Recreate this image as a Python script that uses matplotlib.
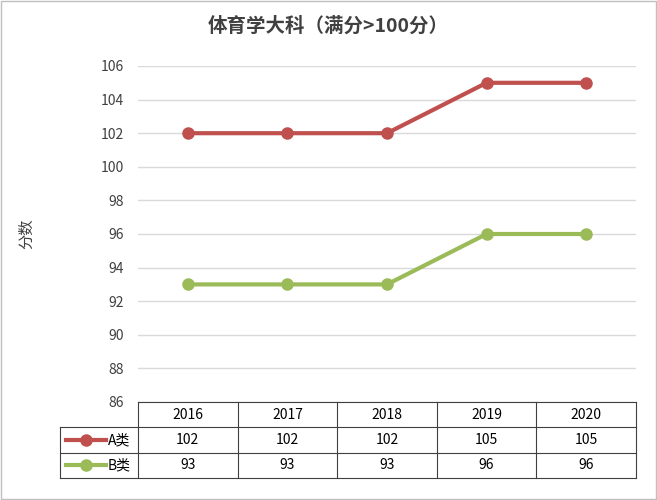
import matplotlib.pyplot as plt
from matplotlib.patches import Rectangle
plt.rcParams['font.family'] = ['Noto Sans CJK SC', 'DejaVu Sans']

years = ['2016', '2017', '2018', '2019', '2020']
a_vals = [102, 102, 102, 105, 105]
b_vals = [93, 93, 93, 96, 96]
series = [('A类', a_vals, '#C0504D'), ('B类', b_vals, '#9BBB59')]

fig = plt.figure(figsize=(6.57, 5), dpi=100)
fig.patches.append(Rectangle((0.002, 0.002), 0.996, 0.996, transform=fig.transFigure,
                             fill=False, edgecolor='#BFBFBF', lw=1))
ax = fig.add_axes([138/657, 98/500, 498/657, 336/500])
x = list(range(len(years)))
for name, v, c in series:
    ax.plot(x, v, color=c, lw=3, marker='o', ms=8)
ax.set_xlim(-0.5, 4.5)
ax.set_ylim(86, 106)
ax.set_yticks(range(86, 107, 2))
ax.tick_params(axis='y', length=0, labelsize=10, colors='#404040', pad=10)
ax.set_xticks([])
ax.grid(axis='y', color='#D9D9D9', lw=1)
for s in ax.spines.values():
    s.set_visible(False)
ax.set_ylabel('分数', fontsize=11, color='#404040')
ax.yaxis.set_label_coords(-0.207, 0.5)
fig.text(0.5, 0.948, '体育学大科（满分>100分）', ha='center', va='center',
         fontsize=14, fontweight='bold', color='#404040')

# manual data table in axes coordinates
T = ax.transAxes
rh = 25.3/336
left = -78/498
ec = '#404040'
kw = dict(transform=T, clip_on=False, color=ec, lw=0.8)
for k in range(4):
    yy = -k*rh
    ax.plot([0 if k == 0 else left, 1], [yy, yy], **kw)
for j in range(6):
    xx = j/5
    ax.plot([xx, xx], [0, -3*rh], **kw)
ax.plot([left, left], [-rh, -3*rh], **kw)
for j, yr in enumerate(years):
    ax.text((j+0.5)/5, -0.5*rh, yr, transform=T, ha='center', va='center', fontsize=10)
for i, (name, v, c) in enumerate(series):
    yy = -(1.5+i)*rh
    for j, val in enumerate(v):
        ax.text((j+0.5)/5, yy, str(val), transform=T, ha='center', va='center', fontsize=10)
    ax.plot([-72/498, -32/498], [yy, yy], color=c, lw=3, transform=T, clip_on=False)
    ax.plot([-52/498], [yy], color=c, marker='o', ms=8, transform=T, clip_on=False)
    ax.text(-30/498, yy, name, transform=T, ha='left', va='center', fontsize=10)
fig.savefig('out.png')
